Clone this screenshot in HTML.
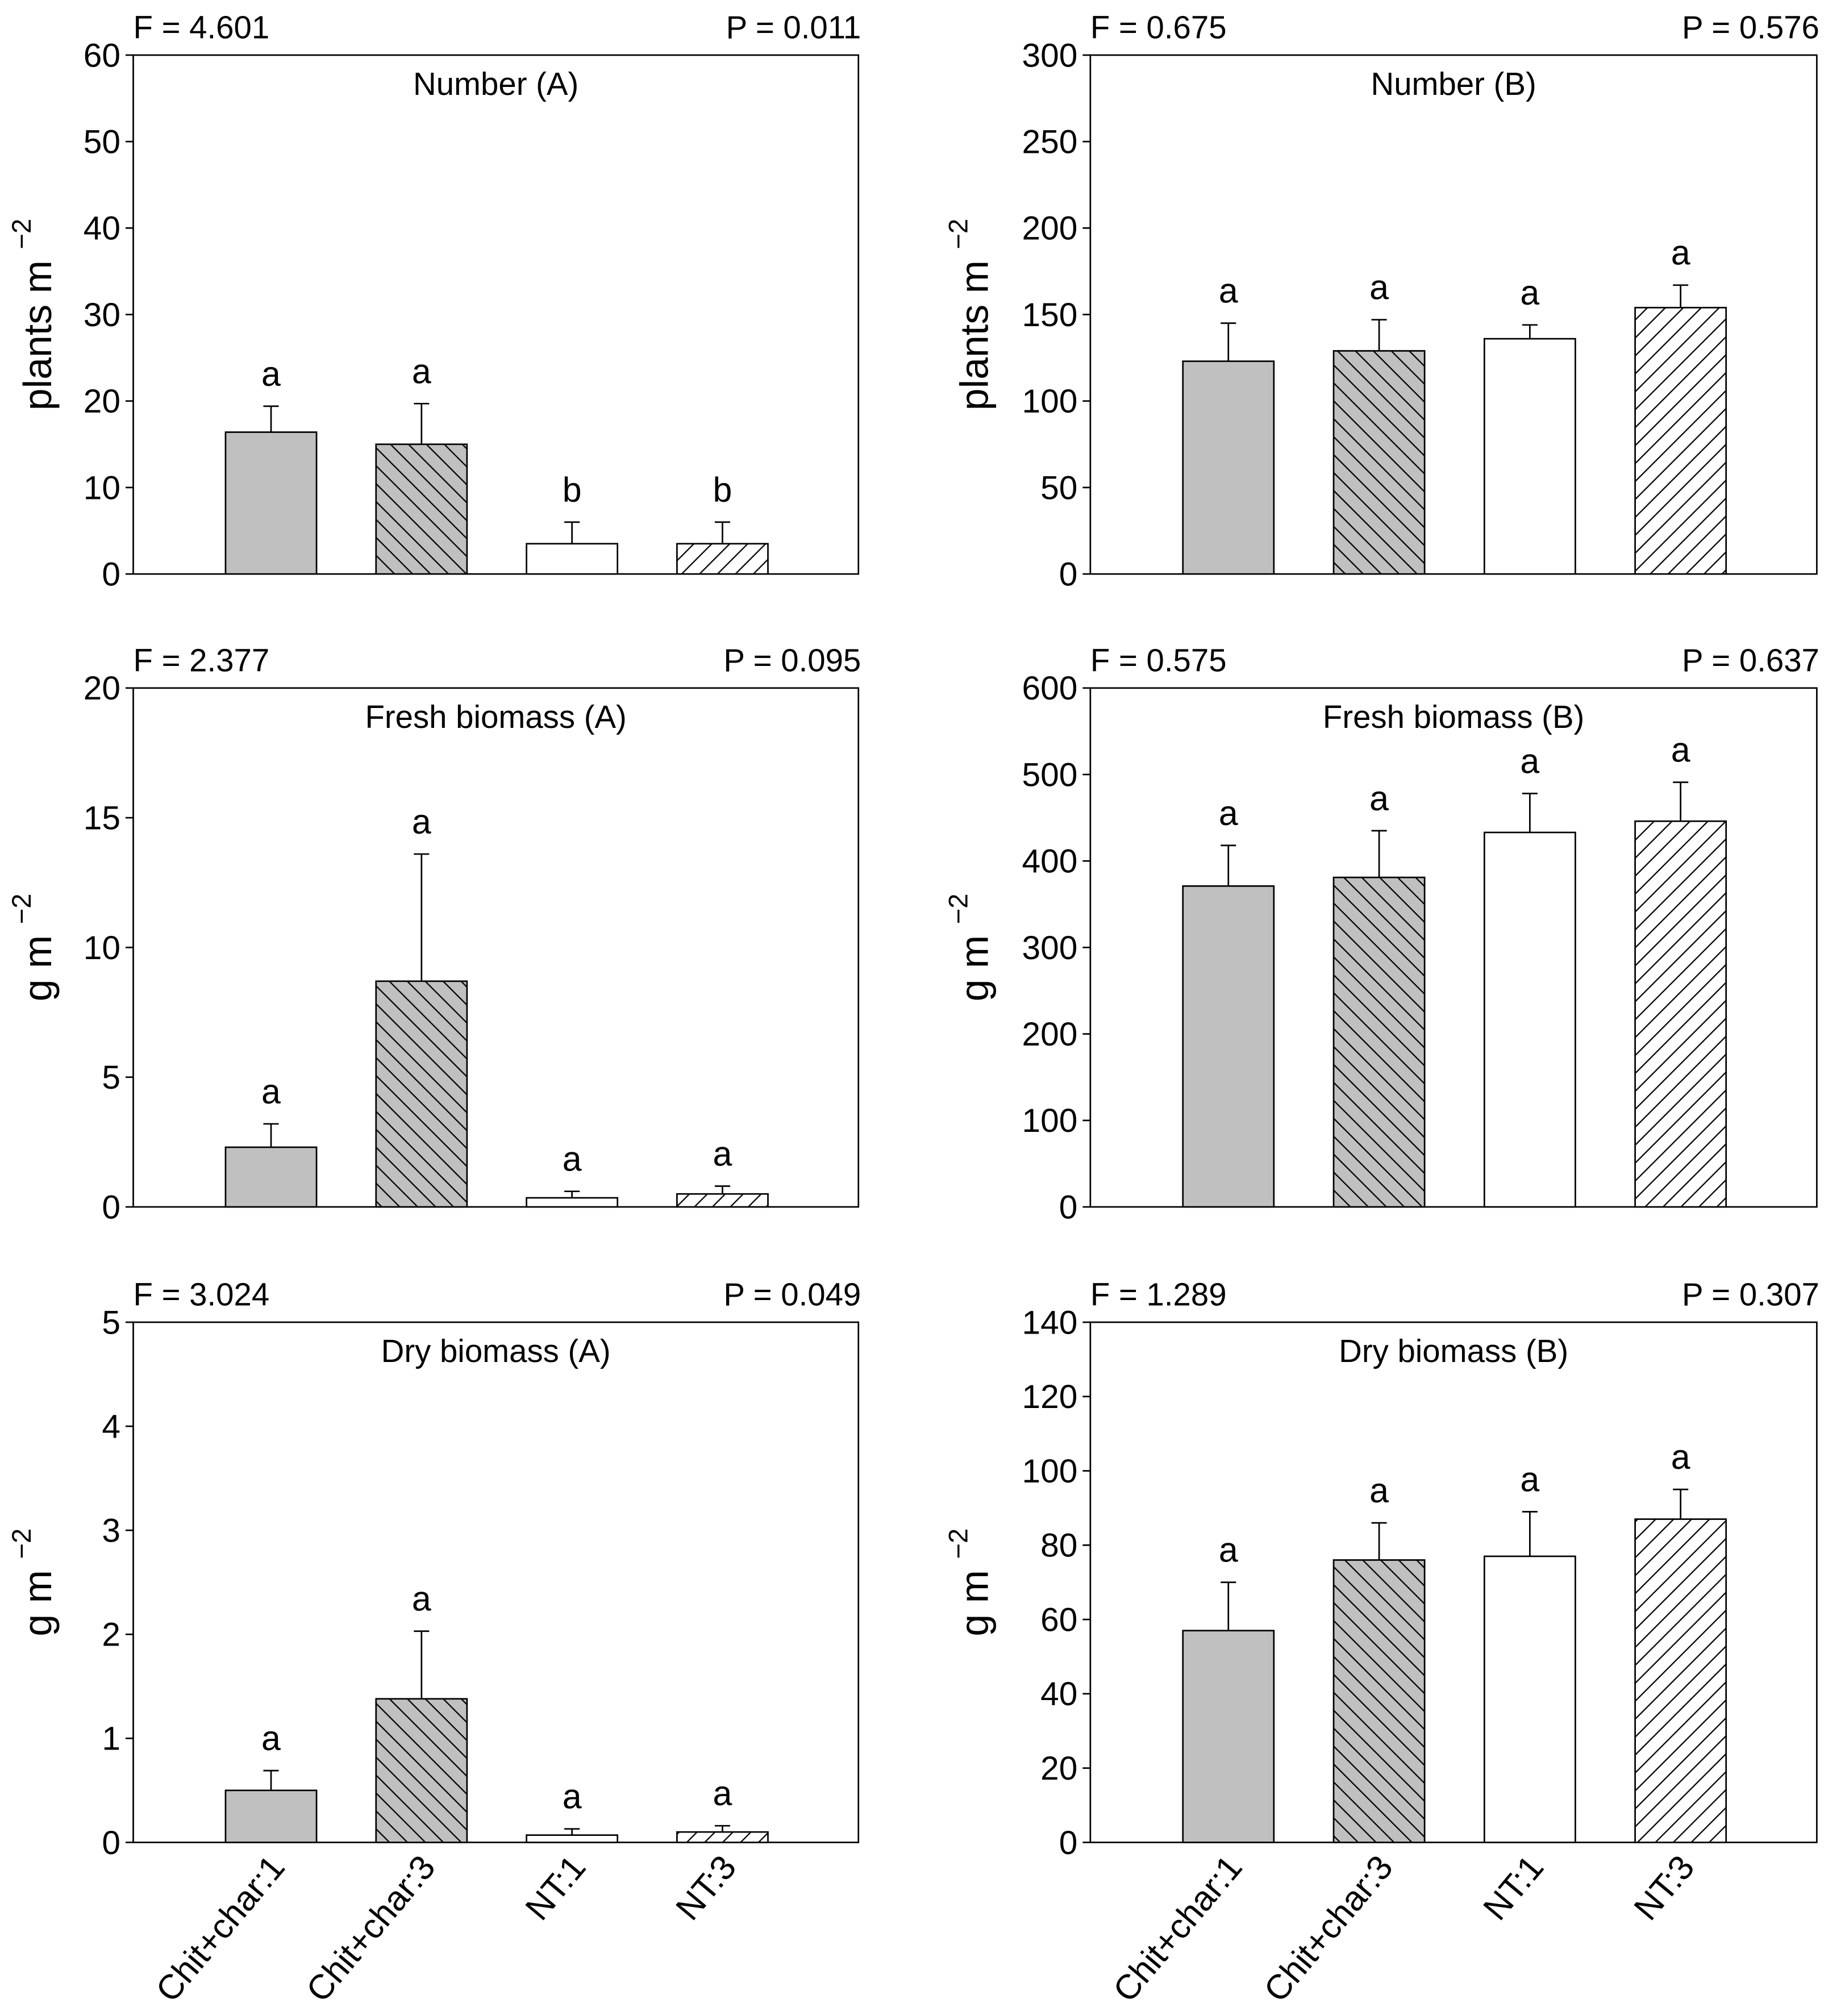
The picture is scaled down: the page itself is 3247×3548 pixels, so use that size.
<!DOCTYPE html>
<html><head><meta charset="utf-8"><style>html,body{margin:0;padding:0;background:#fff}svg{display:block}text{font-family:"Liberation Sans",sans-serif;fill:#000}</style></head>
<body>
<svg id="chart" width="3247" height="3548" viewBox="0 0 1440 1573.5" xmlns="http://www.w3.org/2000/svg">
<defs>
<pattern id="back" patternUnits="userSpaceOnUse" width="14" height="14"><rect width="14" height="14" fill="#c0c0c0"/><path d="M-2,-2 L16,16 M-16,-2 L2,16 M12,-2 L30,16" stroke="#000" stroke-width="1"/></pattern>
<pattern id="fwd" patternUnits="userSpaceOnUse" width="14" height="14"><rect width="14" height="14" fill="#fff"/><path d="M-2,16 L16,-2 M-16,16 L2,-2 M12,16 L30,-2" stroke="#000" stroke-width="1"/></pattern>
</defs>
</svg>
<script>
const categories = ["Chit+char:1","Chit+char:3","NT:1","NT:3"];
const numA = [16.4, 15.0, 3.5, 3.5];
const numAErr = [19.4, 19.7, 6.0, 6.0];
const numALetters = ["a","a","b","b"];
const numB = [123, 129, 136, 154];
const numBErr = [145, 147, 144, 167];
const freshA = [2.3, 8.7, 0.35, 0.5];
const freshAErr = [3.2, 13.6, 0.6, 0.8];
const freshB = [371, 381, 433, 446];
const freshBErr = [418, 435, 478, 491];
const dryA = [0.5, 1.38, 0.07, 0.1];
const dryAErr = [0.69, 2.03, 0.13, 0.16];
const dryB = [57, 76, 77, 87];
const dryBErr = [70, 86, 89, 95];
const allA = ["a","a","a","a"];
const ticksNumA = [0,10,20,30,40,50,60];
const ticksNumB = [0,50,100,150,200,250,300];
const ticksFreshA = [0,5,10,15,20];
const ticksFreshB = [0,100,200,300,400,500,600];
const ticksDryA = [0,1,2,3,4,5];
const ticksDryB = [0,20,40,60,80,100,120,140];
const fills = ["#c0c0c0","url(#back)","#fff","url(#fwd)"];

const NS="http://www.w3.org/2000/svg";
const svg=document.getElementById('chart');
function mk(tag,attrs,parent){const e=document.createElementNS(NS,tag);for(const k in attrs)e.setAttribute(k,attrs[k]);(parent||svg).appendChild(e);return e;}

const panels=[
 {id:'number-a',x0:104,x1:670,y0:43,y1:448,vals:numA,err:numAErr,ticks:ticksNumA,let:numALetters,title:'Number (A)',F:'F = 4.601',P:'P = 0.011',yl:'plants m',xl:false,yo:64},
 {id:'number-b',x0:851,x1:1418,y0:43,y1:448,vals:numB,err:numBErr,ticks:ticksNumB,let:allA,title:'Number (B)',F:'F = 0.675',P:'P = 0.576',yl:'plants m',xl:false,yo:80},
 {id:'fresh-a',x0:104,x1:670,y0:537,y1:942,vals:freshA,err:freshAErr,ticks:ticksFreshA,let:allA,title:'Fresh biomass (A)',F:'F = 2.377',P:'P = 0.095',yl:'g m',xl:false,yo:64},
 {id:'fresh-b',x0:851,x1:1418,y0:537,y1:942,vals:freshB,err:freshBErr,ticks:ticksFreshB,let:allA,title:'Fresh biomass (B)',F:'F = 0.575',P:'P = 0.637',yl:'g m',xl:false,yo:80},
 {id:'dry-a',x0:104,x1:670,y0:1032,y1:1438,vals:dryA,err:dryAErr,ticks:ticksDryA,let:allA,title:'Dry biomass (A)',F:'F = 3.024',P:'P = 0.049',yl:'g m',xl:true,yo:64},
 {id:'dry-b',x0:851,x1:1418,y0:1032,y1:1438,vals:dryB,err:dryBErr,ticks:ticksDryB,let:allA,title:'Dry biomass (B)',F:'F = 1.289',P:'P = 0.307',yl:'g m',xl:true,yo:80}
];

panels.forEach(p=>{
 const g=mk('g',{});
 
 
 const max=p.ticks[p.ticks.length-1];
 const y=v=>p.y1-(v/max)*(p.y1-p.y0);
 const cx=i=>p.x0+(p.x1-p.x0)*(0.19+0.2075*i);
 const bw=71;
 const fr=mk('rect',{x:p.x0,y:p.y0,width:p.x1-p.x0,height:p.y1-p.y0,fill:'none',stroke:'#000','stroke-width':1.2},g);
 
 
 p.ticks.forEach(t=>{
  mk('line',{x1:p.x0-6,x2:p.x0,y1:y(t),y2:y(t),stroke:'#000','stroke-width':1.2},g);
  const tl=mk('text',{x:p.x0-10,y:y(t)+9,'text-anchor':'end','font-size':26},g);
  tl.textContent=t;
  
  
 });
 p.vals.forEach((v,i)=>{
  const ey=y(p.err[i]);
  const el=mk('line',{x1:cx(i),x2:cx(i),y1:y(v),y2:ey,stroke:'#000','stroke-width':1.2},g);
  
  
  mk('line',{x1:cx(i)-6,x2:cx(i)+6,y1:ey,y2:ey,stroke:'#000','stroke-width':1.2},g);
  const b=mk('rect',{x:cx(i)-bw/2,y:y(v),width:bw,height:p.y1-y(v),fill:fills[i],stroke:'#000','stroke-width':1.2},g);
  
  
  const lt=mk('text',{x:cx(i),y:ey-16,'text-anchor':'middle','font-size':27},g);
  lt.textContent=p.let[i];
  
  
  if(p.xl){
   const xl=mk('text',{x:0,y:0,'text-anchor':'end','font-size':27,transform:`translate(${cx(i)+12},${p.y1+20}) rotate(-50)`},g);
   xl.textContent=categories[i];
   
   
  }
 });
 const ft=mk('text',{x:p.x0,y:p.y0-13,'font-size':25},g);
 ft.textContent=p.F;
 
 
 const pt=mk('text',{x:p.x1+2,y:p.y0-13,'text-anchor':'end','font-size':25},g);
 pt.textContent=p.P;
 
 
 const tt=mk('text',{x:(p.x0+p.x1)/2,y:p.y0+31,'text-anchor':'middle','font-size':25},g);
 tt.textContent=p.title;
 
 
 const yc=(p.y0+p.y1)/2;
 const yt=mk('text',{x:0,y:0,'text-anchor':'middle','font-size':31,transform:`translate(${p.x0-p.yo},${yc}) rotate(-90)`},g);
 yt.textContent=p.yl+' ';
 const sup=mk('tspan',{'font-size':21,dy:-16},yt);
 sup.textContent='\u22122';
 
 
});
</script>
</body></html>
